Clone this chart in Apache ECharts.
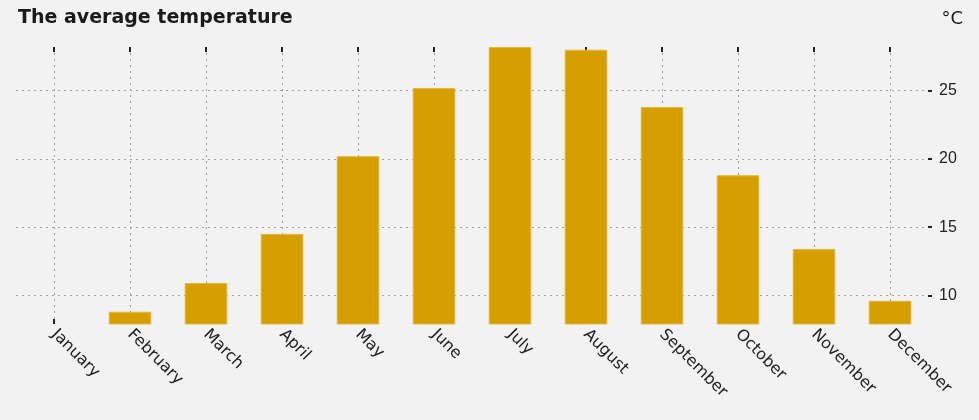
<!DOCTYPE html>
<html>
<head>
<meta charset="utf-8">
<script src="https://cdn.jsdelivr.net/npm/echarts@6/dist/echarts.min.js"></script>
<style>
html,body{margin:0;padding:0;background:#f2f2f2;}
#c{width:979px;height:420px;}
</style>
</head>
<body>
<div id="c"></div>
<script>
const months = ["January","February","March","April","May","June","July","August","September","October","November","December"];
const temps = [7.9, 8.8, 10.9, 14.5, 20.2, 25.2, 28.2, 28.0, 23.8, 18.8, 13.4, 9.6];
const yTicks = [10, 15, 20, 25];

const chart = echarts.init(document.getElementById('c'));
chart.setOption({
  backgroundColor: '#f2f2f2',
  animation: false,
  title: [
    {text: 'The average temperature', left: 13, top: 4,
     textStyle: {fontFamily: 'DejaVu Sans', fontWeight: 'bold', fontSize: 19, color: '#1a1a1a'}},
    {text: '°C', right: 11, top: 5,
     textStyle: {fontFamily: 'DejaVu Sans', fontWeight: 'normal', fontSize: 18, color: '#1a1a1a'}}
  ],
  grid: {left: 16, right: 51, top: 47, bottom: 96},
  xAxis: [
    {type: 'category', data: months, position: 'bottom', boundaryGap: true,
     axisLine: {show: false},
     axisTick: {show: true, inside: true, length: 5, interval: 0, alignWithLabel: true, lineStyle: {color: '#222', width: 2}},
     axisLabel: {rotate: -45, interval: 0, margin: 8, fontFamily: 'DejaVu Sans', fontSize: 16, color: '#222'},
     splitLine: {show: true, interval: 0, alignWithLabel: true, lineStyle: {color: '#a0a0a0', type: [2, 4], width: 1}}},
    {type: 'category', data: months, position: 'top', boundaryGap: true,
     axisLine: {show: false},
     axisTick: {show: true, inside: true, length: 5, interval: 0, alignWithLabel: true, lineStyle: {color: '#222', width: 2}},
     axisLabel: {show: false},
     splitLine: {show: false}}
  ],
  yAxis: {
    type: 'value', position: 'right', min: 7.9, max: 28.2,
    axisLine: {show: false},
    axisTick: {show: true, length: 4, customValues: yTicks, lineStyle: {color: '#222', width: 2}},
    axisLabel: {customValues: yTicks, margin: 11, fontFamily: 'Liberation Sans', fontSize: 16, color: '#222'},
    splitLine: {show: false}
  },
  series: [{
    type: 'bar', data: temps, xAxisIndex: 0, barWidth: '56%',
    itemStyle: {color: '#d69f00', borderColor: '#e4b63e', borderWidth: 1},
    markLine: {
      silent: true, symbol: ['none', 'none'], label: {show: false}, z: 0,
      lineStyle: {color: '#a0a0a0', type: [2, 4], width: 1},
      data: yTicks.map(v => ({yAxis: v}))
    }
  }]
});
</script>
</body>
</html>
